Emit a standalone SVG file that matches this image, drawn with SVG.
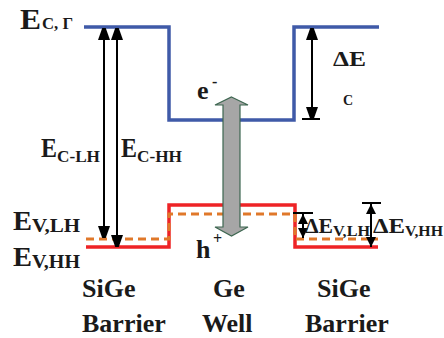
<svg xmlns="http://www.w3.org/2000/svg" width="444" height="338" viewBox="0 0 444 338">
<style>
text{font-weight:700;fill:#1a1a1a}
.big{font-size:27px}
.sub{font-size:17px}
.lbl{font-size:26px}
.ar{stroke:#000;stroke-width:2;fill:none}
</style>
<defs>
<marker id="ah" viewBox="0 0 12 17" refX="12" refY="6" markerWidth="12" markerHeight="17" markerUnits="userSpaceOnUse" orient="auto-start-reverse">
<path d="M0,0 L17,6 L0,12 Z" fill="#000"/>
</marker>
<marker id="ahs" viewBox="0 0 10 10" refX="10" refY="5" markerWidth="10" markerHeight="10" markerUnits="userSpaceOnUse" orient="auto-start-reverse">
<path d="M0,0 L10,5 L0,10 Z" fill="#000"/>
</marker>
</defs>
<g id="bands">
<polyline points="84,27 169,27 169,120 294,120 294,27 379,27" fill="none" stroke="#3f5aa8" stroke-width="3.5"/>
<polyline points="86,247 169,247 169,205 295,205 295,247 378,247" fill="none" stroke="#ee2326" stroke-width="3.5"/>
<polyline points="86,239 169,239 169,214 295,214 295,239 378,239" fill="none" stroke="#e0782a" stroke-width="3" stroke-dasharray="8 5"/>
</g>
<g id="connectors">
<line class="ar" x1="104" y1="28" x2="104" y2="238" marker-start="url(#ah)" marker-end="url(#ah)"/>
<line class="ar" x1="117" y1="28" x2="117" y2="247" marker-start="url(#ah)" marker-end="url(#ah)"/>
<line class="ar" x1="312" y1="28" x2="312" y2="119" marker-start="url(#ah)" marker-end="url(#ah)"/>
<line class="ar" x1="302" y1="119" x2="320" y2="119"/>
<line class="ar" x1="303" y1="214" x2="303" y2="238" marker-start="url(#ahs)" marker-end="url(#ahs)"/>
<line class="ar" x1="293" y1="213" x2="313" y2="213"/>
<line class="ar" x1="371" y1="204" x2="371" y2="247" marker-start="url(#ahs)" marker-end="url(#ahs)"/>
<line class="ar" x1="362" y1="203" x2="381" y2="203"/>
</g>
<g id="transition">
<path d="M231.5,97 L248,105 L240,105 L240,227 L248,227 L231.5,236 L215,227 L223,227 L223,105 L215,105 Z" fill="#a6a6a6" stroke="#3d6650" stroke-width="1.2"/>
</g>
<g id="labels" font-family="Liberation Serif, Times New Roman, Noto Serif, DejaVu Serif, serif">
<text x="20" y="29" font-size="29" textLength="21" lengthAdjust="spacingAndGlyphs">E</text><text x="42" y="29" font-size="16" textLength="31" lengthAdjust="spacingAndGlyphs">C, Γ</text>
<text x="41" y="157" class="big" textLength="16" lengthAdjust="spacingAndGlyphs">E</text><text x="57" y="162" class="sub" textLength="43" lengthAdjust="spacingAndGlyphs">C-LH</text>
<text x="121" y="157" class="big" textLength="16" lengthAdjust="spacingAndGlyphs">E</text><text x="137" y="162" class="sub" textLength="45" lengthAdjust="spacingAndGlyphs">C-HH</text>
<text x="13" y="230" class="big" textLength="19" lengthAdjust="spacingAndGlyphs">E</text><text x="32" y="232" font-size="18" textLength="48" lengthAdjust="spacingAndGlyphs">V,LH</text>
<text x="13" y="266" class="big" textLength="19" lengthAdjust="spacingAndGlyphs">E</text><text x="32" y="268" font-size="18" textLength="48" lengthAdjust="spacingAndGlyphs">V,HH</text>
<text x="197" y="99" font-size="26">e</text><text x="212" y="87" font-size="16">-</text>
<text x="196" y="258" font-size="26">h</text><text x="213" y="244" font-size="16">+</text>
<text x="333" y="66" font-size="22" textLength="33" lengthAdjust="spacingAndGlyphs">ΔE</text>
<text x="343" y="105" font-size="14">C</text>
<text x="305" y="233" font-size="22" textLength="28" lengthAdjust="spacingAndGlyphs">ΔE</text><text x="333" y="236" font-size="15" textLength="37" lengthAdjust="spacingAndGlyphs">V,LH</text>
<text x="373" y="233" font-size="22" textLength="32" lengthAdjust="spacingAndGlyphs">ΔE</text><text x="405" y="236" font-size="15" textLength="38" lengthAdjust="spacingAndGlyphs">V,HH</text>
<text x="82" y="297" class="lbl">SiGe</text>
<text x="82" y="332" class="lbl">Barrier</text>
<text x="213" y="297" class="lbl">Ge</text>
<text x="202" y="332" class="lbl">Well</text>
<text x="317" y="297" class="lbl">SiGe</text>
<text x="305" y="332" class="lbl">Barrier</text>
</g>
</svg>
